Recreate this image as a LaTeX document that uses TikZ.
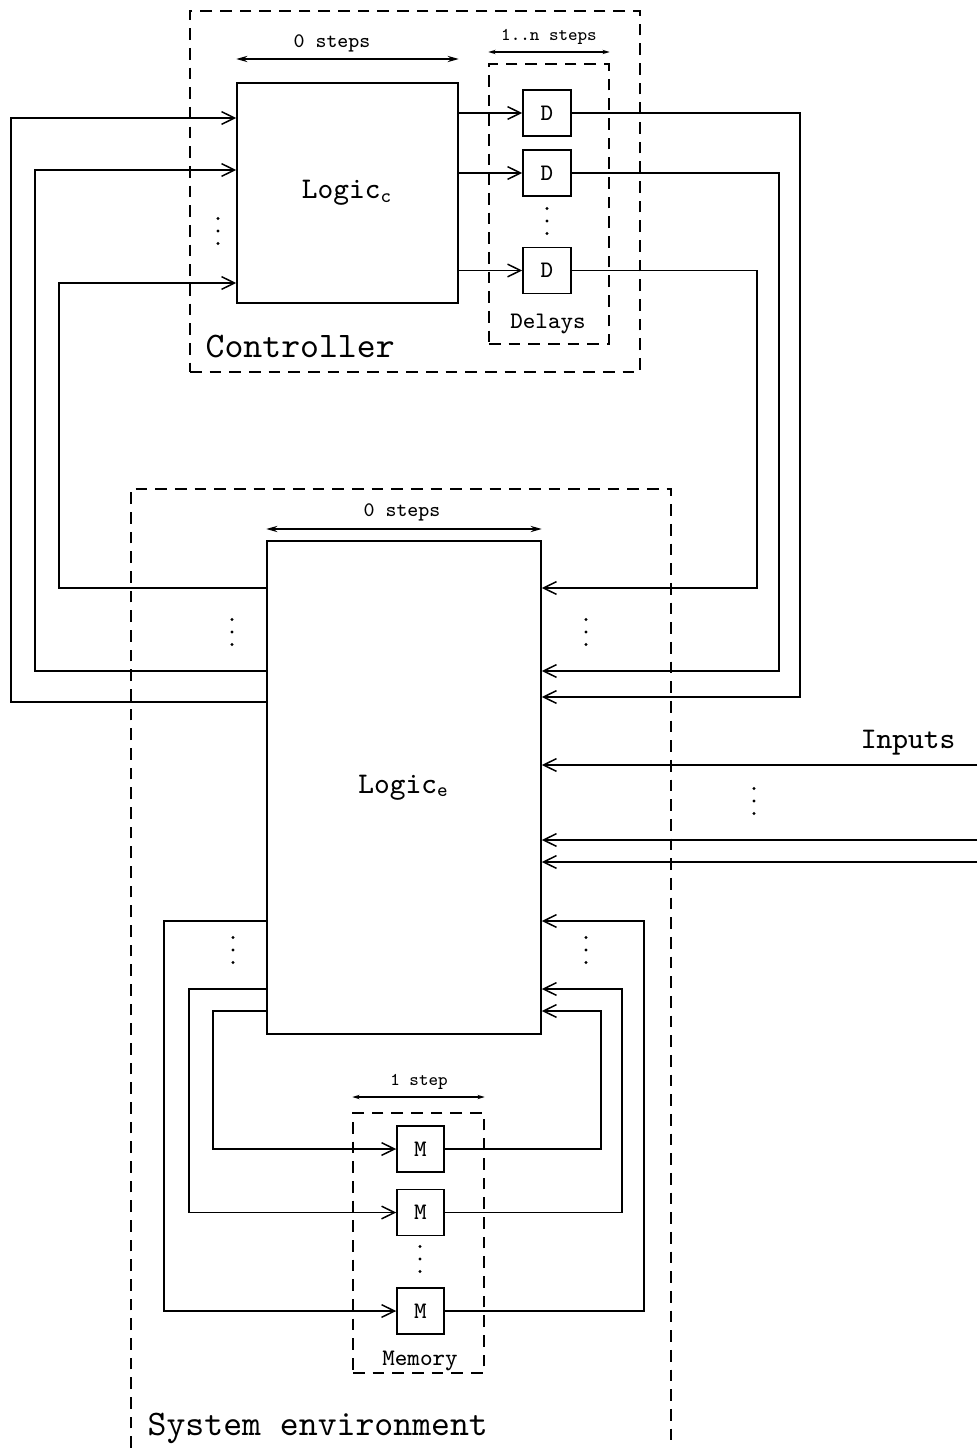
\documentclass[tikz,border=0pt]{standalone}
\usepackage{fontspec}
\usetikzlibrary{arrows.meta,calc}
\begin{document}
\begin{tikzpicture}[x=0.3pt,y=-0.3pt,
  blk/.style={draw, inner sep=0pt, line width=0.45pt},
  grp/.style={draw, inner sep=0pt, line width=0.45pt, dash pattern=on 3.5pt off 2.4pt},
  arr/.style={line width=0.45pt, -{Straight Barb[length=3.9pt,width=3.8pt]}},
  dimA/.style={line width=0.45pt, {Stealth[length=3.4pt,width=1.9pt,inset=1.2pt]}-{Stealth[length=3.4pt,width=1.9pt,inset=1.2pt]}},
  dimB/.style={line width=0.4pt, {Stealth[length=2.2pt,width=1.3pt,inset=0.7pt]}-{Stealth[length=2.2pt,width=1.3pt,inset=0.7pt]}},
  bigtxt/.style={font=\ttfamily\fontsize{10.8}{13}\selectfont, inner sep=0pt},
  midtxt/.style={font=\ttfamily\fontsize{9}{11}\selectfont},
  boxtxt/.style={font=\ttfamily\fontsize{7.1}{8.5}\selectfont},
  smtxtA/.style={font=\ttfamily\fontsize{6.2}{7.5}\selectfont, inner sep=0pt},
  smtxtB/.style={font=\ttfamily\fontsize{5.4}{6.5}\selectfont, inner sep=0pt},
  dbox/.style={blk, boxtxt, minimum width=14.4pt, minimum height=13.8pt},
  mbox/.style={blk, boxtxt, minimum width=14.1pt, minimum height=13.8pt},
  vdts/.style={inner sep=0pt, minimum width=2pt, minimum height=10pt,
    path picture={
      \fill ($(path picture bounding box.center)+(0pt,3.75pt)$) circle[radius=0.48pt];
      \fill (path picture bounding box.center) circle[radius=0.48pt];
      \fill ($(path picture bounding box.center)+(0pt,-3.75pt)$) circle[radius=0.48pt];
    }}
]
\useasboundingbox (0,0) rectangle (977,1448);

% ---------- Controller ----------
\node[grp, minimum width=135pt, minimum height=108.3pt] (ctrl) at (415,191.5) {};
\node[bigtxt, anchor=base west] (ctrllbl) at (205,357) {Controller};
\node[blk, midtxt, minimum width=66.3pt, minimum height=66pt] (Lc) at (347.5,193) {Logic\textsubscript{c}};
\node[grp, minimum width=36pt, minimum height=84pt] (dly) at (549,204) {};
\node[boxtxt, inner sep=0pt, anchor=base] (dlylbl) at (548,328) {Delays};
\node[dbox] (D1) at (547,113) {D};
\node[dbox] (D2) at (547,173) {D};
\node[dbox] (D3) at (547,270.5) {D};
\node[vdts] (ddots) at (547,221) {};
\node[vdts] (lcdots) at (218,231) {};

% dimension arrows (controller)
\coordinate (dimc) at (0,59);
\draw[dimA] (Lc.west |- dimc) -- (Lc.east |- dimc);
\node[smtxtA, anchor=base] (dimclbl) at (332,48) {0 steps};
\coordinate (dimd) at (0,52);
\draw[dimB] (dly.west |- dimd) -- (dly.east |- dimd);
\node[smtxtB, anchor=base] (dimdlbl) at (549,41) {1..n steps};

% Logic_c -> delays
\draw[arr] (Lc.east |- D1.west) -- (D1.west);
\draw[arr] (Lc.east |- D2.west) -- (D2.west);
\draw[arr] (Lc.east |- D3.west) -- (D3.west);

% ---------- System environment ----------
\draw[grp] (131,1448) -- (131,489) -- (671,489) -- (671,1448);
\node[bigtxt, anchor=base west] (envlbl) at (147,1435) {System environment};
\node[blk, midtxt, minimum width=82.2pt, minimum height=147.9pt] (Le) at (404,787.5) {Logic\textsubscript{e}};
\coordinate (dime) at (0,529);
\draw[dimA] (Le.west |- dime) -- (Le.east |- dime);
\node[smtxtA, anchor=base] (dimelbl) at (402,516) {0 steps};

% delays -> Logic_e
\coordinate (r1) at (800,697);
\coordinate (r2) at (779,671);
\coordinate (r3) at (757,588);
\draw[arr] (D1.east) -| (r1) -- (Le.east |- r1);
\draw[arr] (D2.east) -| (r2) -- (Le.east |- r2);
\draw[arr] (D3.east) -| (r3) -- (Le.east |- r3);

% Logic_e -> Logic_c
\coordinate (l1) at (11,702);
\coordinate (l2) at (35,671);
\coordinate (l3) at (59,588);
\coordinate (t1) at (0,118);
\coordinate (t2) at (0,170);
\coordinate (t3) at (0,283);
\draw[arr] (Le.west |- l1) -- (l1) -- (l1 |- t1) -- (Lc.west |- t1);
\draw[arr] (Le.west |- l2) -- (l2) -- (l2 |- t2) -- (Lc.west |- t2);
\draw[arr] (Le.west |- l3) -- (l3) -- (l3 |- t3) -- (Lc.west |- t3);

\node[vdts] (leldots) at (232,632) {};
\node[vdts] (lerdots) at (586,632) {};

% Inputs
\coordinate (in1) at (977,765);
\coordinate (in2) at (977,840);
\coordinate (in3) at (977,862);
\draw[arr] (in1) -- (Le.east |- in1);
\draw[arr] (in2) -- (Le.east |- in2);
\draw[arr] (in3) -- (Le.east |- in3);
\node[midtxt, inner sep=0pt, anchor=base] (inlbl) at (908,748) {Inputs};
\node[vdts] (indots) at (754,801) {};

% ---------- Memory ----------
\node[grp, minimum width=39.3pt, minimum height=78pt] (mem) at (418.5,1243) {};
\node[boxtxt, inner sep=0pt, anchor=base] (memlbl) at (420,1365) {Memory};
\node[mbox] (M1) at (420.5,1149) {M};
\node[mbox] (M2) at (420.5,1212.5) {M};
\node[mbox] (M3) at (420.5,1311) {M};
\node[vdts] (mdots) at (420,1259) {};
\coordinate (dimm) at (0,1097);
\draw[dimB] (mem.west |- dimm) -- (mem.east |- dimm);
\node[smtxtB, anchor=base] (dimmlbl) at (419,1085) {1 step};

% Logic_e -> memory
\coordinate (ml1) at (213,1011);
\coordinate (ml2) at (189,989);
\coordinate (ml3) at (164,921);
\draw[arr] (Le.west |- ml1) -- (ml1) |- (M1.west);
\draw[arr] (Le.west |- ml2) -- (ml2) |- (M2.west);
\draw[arr] (Le.west |- ml3) -- (ml3) |- (M3.west);

% memory -> Logic_e
\coordinate (mr1) at (601,1011);
\coordinate (mr2) at (622,989);
\coordinate (mr3) at (644,921);
\draw[arr] (M1.east) -| (mr1) -- (Le.east |- mr1);
\draw[arr] (M2.east) -| (mr2) -- (Le.east |- mr2);
\draw[arr] (M3.east) -| (mr3) -- (Le.east |- mr3);

\node[vdts] (lebldots) at (233,950) {};
\node[vdts] (lebrdots) at (586,950) {};
\end{tikzpicture}
\end{document}
